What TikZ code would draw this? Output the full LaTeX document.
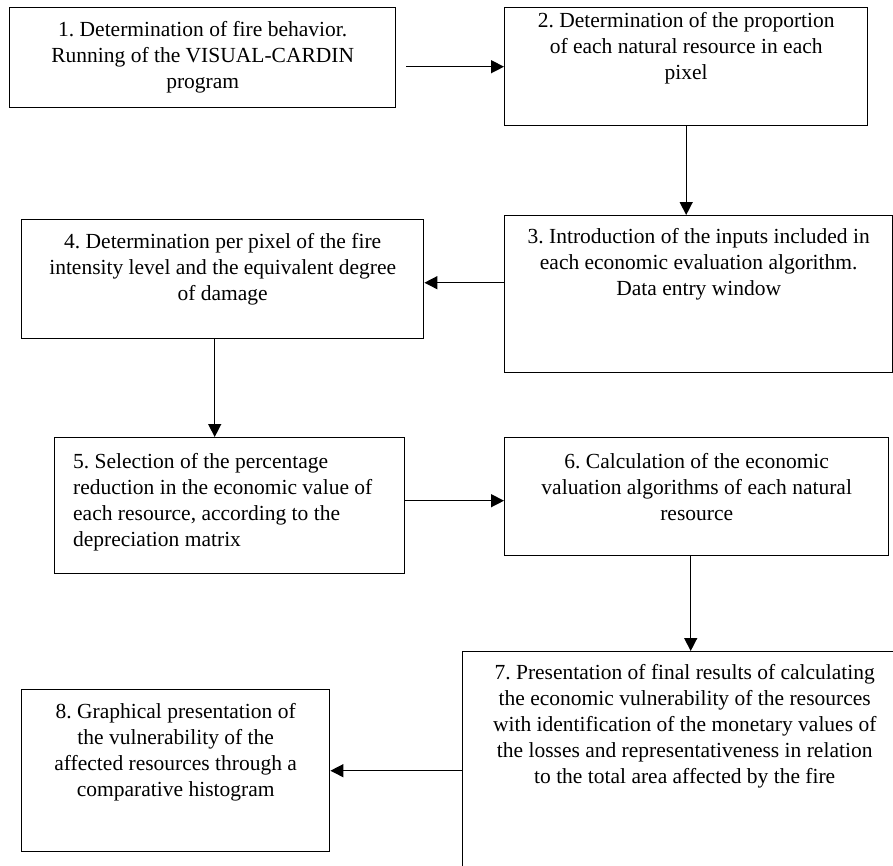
\documentclass[tikz,border=0pt]{standalone}
\usepackage{fontspec}
\setmainfont{Liberation Serif}
\usetikzlibrary{arrows.meta,calc}
\frenchspacing
\begin{document}
\begin{tikzpicture}[x=1pt,y=-1pt,
  box/.style={draw, line width=1.4pt, rectangle, inner sep=0pt, anchor=north west},
  txt/.style={inner sep=0pt, align=center, anchor=north, font=\fontsize{21.5}{26}\selectfont},
  arr/.style={line width=1.4pt, -{Triangle[width=13pt,length=13pt]}}]
\clip (0,0) rectangle (893,865);
\fill[white] (0,0) rectangle (893,865);
\node[box, minimum width=386pt, minimum height=100pt] (b1) at (9,7) {};
\node[box, minimum width=363pt, minimum height=118pt] (b2) at (504,7) {};
\node[box, minimum width=388pt, minimum height=157pt] (b3) at (504,215) {};
\node[box, minimum width=402pt, minimum height=119pt] (b4) at (21,219) {};
\node[box, minimum width=350pt, minimum height=136pt] (b5) at (54,437) {};
\node[box, minimum width=384pt, minimum height=118pt] (b6) at (504,437) {};
\node[box, minimum width=444pt, minimum height=240pt] (b7) at (462,651) {};
\node[box, minimum width=308pt, minimum height=162pt] (b8) at (21,689) {};

\node[txt, anchor=center] (t1) at (b1.center) {1. Determination of fire behavior.\\Running of the VISUAL-CARDIN\\program};
\node[txt] (t2) at ($(b2.north)+(0,5)$) {2. Determination of the proportion\\of each natural resource in each\\pixel};
\node[txt] (t3) at ($(b3.north)+(0,13)$) {3. Introduction of the inputs included in\\each economic evaluation algorithm.\\Data entry window};
\node[txt] (t4) at ($(b4.north)+(0,14)$) {4. Determination per pixel of the fire\\intensity level and the equivalent degree\\of damage};
\node[txt, anchor=north west, align=left] (t5) at ($(b5.north west)+(19,16)$) {5. Selection of the percentage\\reduction in the economic value of\\each resource, according to the\\depreciation matrix};
\node[txt] (t6) at ($(b6.north)+(0,16)$) {6. Calculation of the economic\\valuation algorithms of each natural\\resource};
\node[txt] (t7) at ($(b7.north)+(0,13)$) {7. Presentation of final results of calculating\\the economic vulnerability of the resources\\with identification of the monetary values of\\the losses and representativeness in relation\\to the total area affected by the fire};
\node[txt] (t8) at ($(b8.north)+(0,14)$) {8. Graphical presentation of\\the vulnerability of the\\affected resources through a\\comparative histogram};

\coordinate (s12) at ([xshift=10pt]b1.east);
\draw[arr] (s12 |- b2.west) -- (b2.west);
\draw[arr] (b2.south) -- (b2.south |- b3.north);
\coordinate (e4) at ([yshift=-3.5pt]b4.east);
\draw[arr] (b3.west |- e4) -- (e4);
\coordinate (s45) at ([xshift=-8pt]b4.south);
\draw[arr] (s45) -- (s45 |- b5.north);
\coordinate (e6) at ([yshift=-4pt]b6.west);
\draw[arr] (b5.east |- e6) -- (e6);
\coordinate (s67) at ([xshift=-6pt]b6.south);
\draw[arr] (s67) -- (s67 |- b7.north);
\draw[arr] (b7.west |- b8.east) -- (b8.east);
\end{tikzpicture}
\end{document}
